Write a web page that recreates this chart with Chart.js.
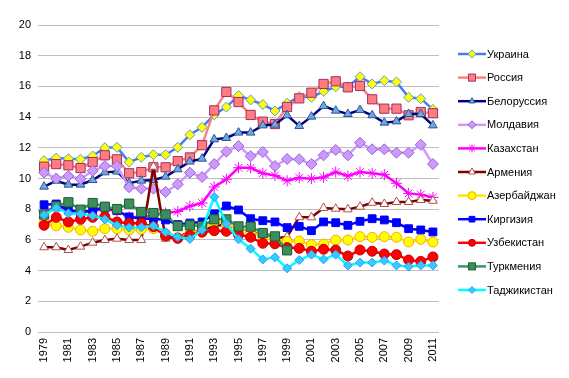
<!DOCTYPE html>
<html><head><meta charset="utf-8">
<script src="https://cdn.jsdelivr.net/npm/chart.js@4.4.1/dist/chart.umd.min.js"></script>
<style>html,body{margin:0;padding:0;background:#fff}#wrap{width:569px;height:378px;position:relative}</style>
</head><body><div id="wrap"><canvas id="c" width="569" height="378"></canvas></div>
<script>
const years = ['1979','1980','1981','1982','1983','1984','1985','1986','1987','1988','1989','1990','1991','1992','1993','1994','1995','1996','1997','1998','1999','2000','2001','2002','2003','2004','2005','2006','2007','2008','2009','2010','2011'];
const yTicks = [0,2,4,6,8,10,12,14,16,18,20];

const ukraine    = [11.16,11.33,11.29,11.25,11.47,12.0,12.03,11.07,11.38,11.55,11.55,12.03,12.85,13.33,14.15,14.65,15.4,15.12,14.82,14.4,14.9,15.33,15.29,15.68,15.98,15.98,16.63,16.16,16.37,16.29,15.29,15.2,14.5];
const russia     = [10.77,10.94,10.86,10.68,11.07,11.51,11.25,10.34,10.42,10.73,10.73,11.13,11.37,12.17,14.44,15.64,14.98,14.14,13.7,13.55,14.66,15.22,15.59,16.16,16.33,15.94,16.03,15.16,14.55,14.55,14.12,14.33,14.25];
const belarus    = [9.47,9.85,9.6,9.6,9.9,10.4,10.45,9.7,9.86,9.9,10.12,10.6,11.1,11.29,12.55,12.64,12.99,12.99,13.46,13.51,14.12,13.42,14.03,14.72,14.42,14.2,14.46,14.12,13.64,13.72,14.2,14.2,13.46];
const moldova    = [10.38,10.0,10.16,9.97,10.5,10.81,10.81,9.43,9.34,9.34,9.12,9.62,10.38,10.1,10.94,11.75,12.12,11.45,11.73,10.81,11.27,11.25,10.94,11.51,11.86,11.51,12.33,11.9,11.9,11.68,11.68,12.2,10.94];
const kazakhstan = [7.9,8.1,7.9,7.8,7.9,8.0,7.9,7.5,7.5,7.6,7.75,7.85,8.2,8.4,9.45,9.95,10.7,10.7,10.34,10.2,9.85,10.05,9.99,10.08,10.42,10.16,10.42,10.34,10.25,9.69,9.03,8.95,8.77];
const armenia    = [5.52,5.52,5.34,5.56,5.82,5.99,6.08,5.99,5.99,10.77,6.08,6.2,6.5,6.6,6.9,7.0,6.7,6.5,6.3,6.1,6.21,7.47,7.47,8.08,8.03,7.99,8.16,8.42,8.34,8.47,8.47,8.6,8.55];
const azerbaijan = [7.08,6.92,6.82,6.65,6.56,6.73,6.73,6.65,6.69,6.73,6.4,6.15,6.4,6.65,7.2,7.05,6.7,6.45,6.25,6.02,5.9,5.93,5.69,5.73,5.99,5.99,6.21,6.17,6.21,6.17,5.86,6.04,5.86];
const kirgizia   = [8.29,8.34,7.95,7.82,7.9,8.16,7.9,7.5,7.38,7.38,7.3,7.0,7.1,7.17,7.7,8.21,7.95,7.38,7.25,7.17,6.8,6.88,6.6,7.17,7.12,6.95,7.21,7.38,7.3,7.12,6.73,6.65,6.52];
const uzbekistan = [6.95,7.47,7.17,7.34,7.47,7.51,7.17,7.08,7.08,6.86,6.25,6.1,6.3,6.5,6.6,6.56,6.35,6.17,5.78,5.75,5.5,5.45,5.26,5.39,5.34,4.95,5.34,5.26,5.08,5.04,4.69,4.6,4.89];
const turkmenia  = [7.65,8.2,8.45,7.97,8.4,8.16,8.01,8.36,7.82,7.75,7.65,6.9,6.95,6.9,7.34,7.34,6.88,6.86,6.45,6.23,5.32,null,null,null,null,null,null,null,null,null,null,null,null];
const tajikistan = [7.62,8.08,7.73,7.69,7.58,7.34,6.95,6.8,6.82,6.92,6.5,6.19,6.06,6.65,8.8,7.05,6.04,5.43,4.73,4.87,4.15,4.69,5.04,4.73,5.04,4.34,4.52,4.52,4.65,4.34,4.26,4.34,4.34];

const seriesNames = ['Украина','Россия','Белоруссия','Молдавия','Казахстан','Армения','Азербайджан','Киргизия','Узбекистан','Туркмения','Таджикистан'];
const seriesData = [ukraine,russia,belarus,moldova,kazakhstan,armenia,azerbaijan,kirgizia,uzbekistan,turkmenia,tajikistan];
const styles = [
  {line:'#4A7CF0', style:'rectRot',  r:5,   bg:'#FFFF00', bd:'#5B9BD5', lr:4},
  {line:'#FF8080', style:'rect',     r:6.5, bg:'#FF7C80', bd:'#A33060', lr:5},
  {line:'#000080', style:'triangle', r:5,   bg:'#6FA8DC', bd:'#2F5597', lr:3.5},
  {line:'#CC99FF', style:'rectRot',  r:5.5, bg:'#CC99FF', bd:'#9966CC', lr:4},
  {line:'#FF00FF', style:'star',     r:5.5, bg:'#FF00FF', bd:'#FF00FF', lr:4},
  {line:'#800000', style:'triangle', r:5,   bg:'#FFFFFF', bd:'#B05050', lr:4},
  {line:'#FFE800', style:'circle',   r:5,   bg:'#FFFF00', bd:'#FFA500', lr:4},
  {line:'#0000FF', style:'rect',     r:5.5, bg:'#0000FF', bd:'#0000FF', lr:4},
  {line:'#FF0000', style:'circle',   r:5,   bg:'#FF0000', bd:'#C00000', lr:3.5},
  {line:'#339966', style:'rect',     r:6.5, bg:'#3C8F5C', bd:'#1E5A36', lr:5},
  {line:'#00FFFF', style:'rectRot',  r:4.5, bg:'#33CCFF', bd:'#3399FF', lr:3.5}
];

const datasets = seriesNames.map((name, i) => ({
  label: name,
  data: seriesData[i],
  borderColor: styles[i].line,
  borderWidth: 2.5,
  pointStyle: styles[i].style,
  pointRadius: styles[i].r,
  pointBackgroundColor: styles[i].bg,
  pointBorderColor: styles[i].bd,
  pointBorderWidth: 1,
  tension: 0,
  spanGaps: false,
  order: seriesNames.length - 1 - i
}));

const legendPlugin = {
  id: 'sideLegend',
  afterDraw(chart) {
    const ctx = chart.ctx;
    ctx.save();
    ctx.font = '11px "Liberation Sans", Arial, sans-serif';
    ctx.textBaseline = 'middle';
    ctx.textAlign = 'left';
    chart.data.datasets.forEach((ds, i) => {
      const y = 54 + i * 23.6;
      ctx.strokeStyle = ds.borderColor;
      ctx.lineWidth = 2.5;
      ctx.beginPath(); ctx.moveTo(458, y); ctx.lineTo(486, y); ctx.stroke();
      ctx.fillStyle = ds.pointBackgroundColor;
      ctx.strokeStyle = ds.pointBorderColor;
      ctx.lineWidth = 1;
      Chart.helpers.drawPoint(ctx, {pointStyle: ds.pointStyle, radius: styles[i].lr, borderWidth: 1, rotation: 0}, 472, y);
      ctx.fillStyle = '#000';
      ctx.fillText(ds.label, 487, y + 0.5);
    });
    ctx.restore();
  }
};

new Chart(document.getElementById('c'), {
  type: 'line',
  data: { labels: years, datasets },
  options: {
    responsive: false,
    devicePixelRatio: 1,
    animation: false,
    layout: { padding: { top: 25, right: 130, left: 0, bottom: 0 } },
    plugins: { legend: { display: false }, tooltip: { enabled: false } },
    scales: {
      x: {
        offset: true,
        grid: { display: false, drawTicks: false },
        border: { display: false },
        afterFit: s => { s.height = 46; },
        ticks: {
          autoSkip: false, minRotation: 90, maxRotation: 90, padding: 6,
          color: '#000',
          font: { family: '"Liberation Sans", Arial, sans-serif', size: 11 },
          callback: function(v, i) { return i % 2 === 0 ? years[i] : ''; }
        }
      },
      y: {
        min: 0, max: 20,
        afterFit: s => { s.width = 38; },
        afterBuildTicks: s => { s.ticks = yTicks.map(v => ({value: v})); },
        grid: { color: '#BFBFBF', lineWidth: 1, drawTicks: false },
        border: { display: false },
        ticks: {
          padding: 7, color: '#000',
          font: { family: '"Liberation Sans", Arial, sans-serif', size: 11 }
        }
      }
    }
  },
  plugins: [legendPlugin]
});
</script></body></html>
